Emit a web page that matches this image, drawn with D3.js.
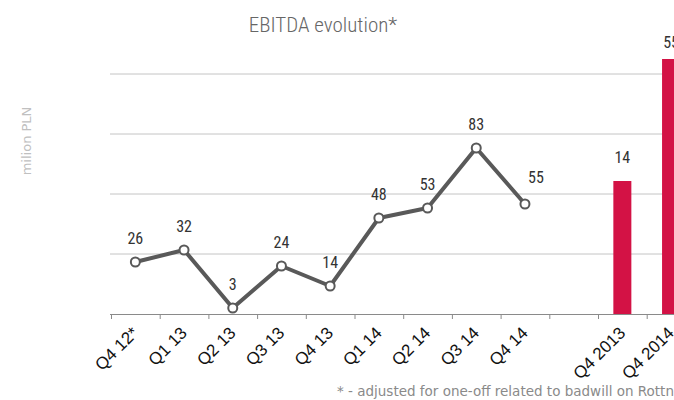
<!DOCTYPE html>
<html>
<head>
<meta charset="utf-8">
<script src="https://cdn.jsdelivr.net/npm/d3@7"></script>
<style>
  body { margin: 0; background: #fff; }
  svg { display: block; }
</style>
</head>
<body>
<div id="chart"></div>
<script>
// categories on the x axis (one empty slot between the quarters and the years)
const categories = ['Q4 12*', 'Q1 13', 'Q2 13', 'Q3 13', 'Q4 13', 'Q1 14', 'Q2 14', 'Q3 14', 'Q4 14', '', 'Q4 2013', 'Q4 2014'];

// quarterly EBITDA (line)
const quarters = ['Q4 12*', 'Q1 13', 'Q2 13', 'Q3 13', 'Q4 13', 'Q1 14', 'Q2 14', 'Q3 14', 'Q4 14'];
const quarterValues = [26, 32, 3, 24, 14, 48, 53, 83, 55];

// yearly Q4 bars: drawn height (in axis units) and the label shown on top
const years = ['Q4 2013', 'Q4 2014'];
const yearHeights = [66.5, 127.5];
const yearLabels = ['14', '55'];

const gridTicks = [0, 30, 60, 90, 120];

const width = 674, height = 400;
const margin = { top: 74, right: 0, bottom: 86, left: 111 };
const band = 48.7;

const svg = d3.select('#chart')
  .append('svg')
  .attr('width', width)
  .attr('height', height);

// x: band scale, runs past the right edge like the original
const x = d3.scaleBand()
  .domain(categories.map((d, i) => i))
  .range([margin.left, margin.left + band * categories.length])
  .padding(0);

const y = d3.scaleLinear().domain([0, 120]).range([314, 74]);

// gridlines
svg.append('g')
  .selectAll('line')
  .data(gridTicks.slice(1))
  .enter()
  .append('line')
  .attr('x1', margin.left - 1)
  .attr('x2', width)
  .attr('y1', d => y(d))
  .attr('y2', d => y(d))
  .attr('stroke', '#c4c4c4')
  .attr('stroke-width', 1);

// bars
const idx = name => categories.indexOf(name);
svg.append('g')
  .selectAll('rect')
  .data(years)
  .enter()
  .append('rect')
  .attr('x', d => x(idx(d)) + x.bandwidth() / 2 - 9)
  .attr('width', 18)
  .attr('y', (d, i) => y(yearHeights[i]))
  .attr('height', (d, i) => y(0) - y(yearHeights[i]))
  .attr('fill', '#d31245');

// x axis
const xAxis = d3.axisBottom(x).tickSize(5).tickFormat(i => categories[i]);
const gx = svg.append('g')
  .attr('transform', `translate(0,${y(0)})`)
  .call(xAxis);
gx.select('.domain').attr('stroke', '#8a8a8a').attr('d', `M${margin.left - 1},0.5H${width}`);
gx.selectAll('.tick line').remove();
// tick marks sit on the band boundaries
gx.selectAll('.boundary')
  .data(d3.range(categories.length))
  .enter()
  .append('line')
  .attr('x1', i => x(i) + 0.5)
  .attr('x2', i => x(i) + 0.5)
  .attr('y1', 0)
  .attr('y2', 5)
  .attr('stroke', '#8a8a8a');
gx.selectAll('.tick text')
  .style('font-family', 'Arial, "Liberation Sans", sans-serif')
  .style('font-size', '17px')
  .attr('fill', '#111')
  .attr('text-anchor', 'end')
  .attr('dy', 0)
  .attr('y', 0)
  .attr('transform', 'translate(4,20) rotate(-45)');

// line
const line = d3.line()
  .x((d, i) => x(idx(quarters[i])) + x.bandwidth() / 2)
  .y(d => y(d));

svg.append('path')
  .datum(quarterValues)
  .attr('d', line)
  .attr('fill', 'none')
  .attr('stroke', '#595959')
  .attr('stroke-width', 4)
  .attr('stroke-linejoin', 'round');

svg.append('g')
  .selectAll('circle')
  .data(quarterValues)
  .enter()
  .append('circle')
  .attr('cx', (d, i) => x(idx(quarters[i])) + x.bandwidth() / 2)
  .attr('cy', d => y(d))
  .attr('r', 4.5)
  .attr('fill', '#fff')
  .attr('stroke', '#595959')
  .attr('stroke-width', 2);

// point labels (the last one is nudged up/right)
const labelFont = '"Liberation Sans Narrow", "Roboto Condensed", "Arial Narrow", sans-serif';
svg.append('g')
  .selectAll('text')
  .data(quarterValues)
  .enter()
  .append('text')
  .attr('x', (d, i) => x(idx(quarters[i])) + x.bandwidth() / 2 + (i === quarterValues.length - 1 ? 11 : 0))
  .attr('y', (d, i) => y(d) - (i === quarterValues.length - 1 ? 21 : 18))
  .attr('text-anchor', 'middle')
  .style('font-family', labelFont)
  .style('font-size', '16px')
  .style('font-weight', 400)
  .attr('fill', '#333')
  .text(d => d);

svg.append('g')
  .selectAll('text')
  .data(years)
  .enter()
  .append('text')
  .attr('x', d => x(idx(d)) + x.bandwidth() / 2)
  .attr('y', (d, i) => Math.max(y(yearHeights[i]) - 18, 48))
  .attr('text-anchor', 'middle')
  .style('font-family', labelFont)
  .style('font-size', '16px')
  .attr('fill', '#333')
  .text((d, i) => yearLabels[i]);

// title
svg.append('text')
  .attr('x', 323)
  .attr('y', 32)
  .attr('text-anchor', 'middle')
  .style('font-family', labelFont)
  .style('font-size', '21px')
  .style('font-weight', 300)
  .attr('fill', '#666')
  .text('EBITDA evolution*');

// y axis label
svg.append('text')
  .attr('transform', 'translate(31,141) rotate(-90)')
  .attr('text-anchor', 'middle')
  .style('font-family', '"DejaVu Sans", Verdana, sans-serif')
  .style('font-size', '13px')
  .attr('fill', '#c0c0c0')
  .text('milion PLN');

// footnote
svg.append('text')
  .attr('x', 337)
  .attr('y', 396)
  .style('font-family', '"DejaVu Sans", Verdana, sans-serif')
  .style('font-size', '13.5px')
  .attr('fill', '#8a8a8a')
  .text('* - adjusted for one-off related to badwill on Rottneros');
</script>
</body>
</html>
